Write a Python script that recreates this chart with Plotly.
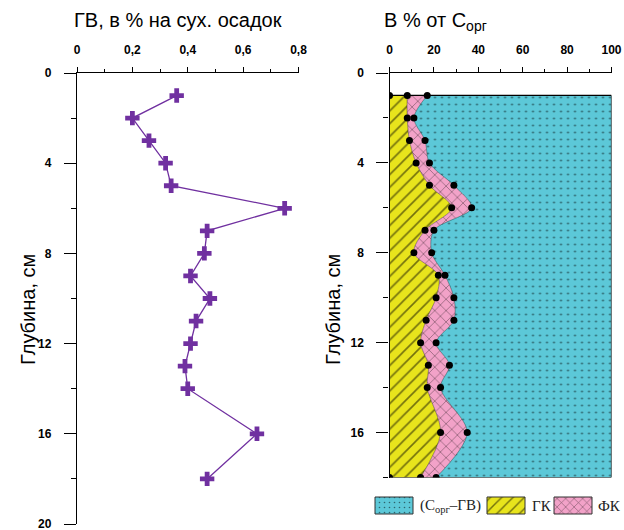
import plotly.graph_objects as go

# ---------------- data ----------------
depth = [1, 2, 3, 4, 5, 6, 7, 8, 9, 10, 11, 12, 13, 14, 16, 18]
gv = [0.36, 0.20, 0.26, 0.32, 0.34, 0.75, 0.47, 0.46, 0.41, 0.48, 0.43, 0.41, 0.39, 0.40, 0.65, 0.47]
gk = [8, 8, 9, 12, 18, 28, 16, 11, 22, 21, 16.5, 14, 17.5, 17, 23, 14]
fk = [9, 3, 7, 6, 11, 9, 4, 8, 3, 8, 12.5, 7, 9.5, 6, 12, 7]
total = [a + b for a, b in zip(gk, fk)]
full = [100] * len(depth)

left_xticks = [0, 0.2, 0.4, 0.6, 0.8]
left_xticktext = ["0", "0,2", "0,4", "0,6", "0,8"]
right_xticks = [0, 20, 40, 60, 80, 100]
yticks = [0, 4, 8, 12, 16, 20]
legend_names = ["(C<sub>орг</sub>–ГВ)", "ГК", "ФК"]

# ---------------- styles ----------------
PURPLE = "#7030A0"
CYAN = "#5CC8D8"
YELLOW = "#E8E41C"
PINK = "#F2A2C8"
W, H = 624, 530

def px_x(p):
    return p / W

def px_y(p):
    return 1 - p / H

fig = go.Figure()

# left panel
fig.add_trace(go.Scatter(
    x=gv, y=depth, mode="lines+markers", xaxis="x", yaxis="y",
    line=dict(color=PURPLE, width=1.3),
    marker=dict(symbol="cross", size=12, color=PURPLE),
    showlegend=False, hoverinfo="skip"))

# right panel stacked fills
spl = dict(shape="spline", smoothing=0.9)
fig.add_trace(go.Scatter(
    x=gk, y=depth, xaxis="x2", yaxis="y2", mode="lines",
    line=dict(color="rgba(0,0,0,0.6)", width=0.6, **spl),
    fill="tozerox", fillcolor=YELLOW,
    fillpattern=dict(shape="/", bgcolor=YELLOW, fgcolor="black", size=9, solidity=0.18),
    showlegend=False, hoverinfo="skip"))
fig.add_trace(go.Scatter(
    x=total, y=depth, xaxis="x2", yaxis="y2", mode="lines",
    line=dict(color="rgba(0,0,0,0.6)", width=0.6, **spl),
    fill="tonextx", fillcolor=PINK,
    fillpattern=dict(shape="x", bgcolor=PINK, fgcolor="black", size=8, solidity=0.15),
    showlegend=False, hoverinfo="skip"))
fig.add_trace(go.Scatter(
    x=full, y=depth, xaxis="x2", yaxis="y2", mode="lines",
    line=dict(color="black", width=1.2),
    fill="tonextx", fillcolor=CYAN,
    fillpattern=dict(shape=".", bgcolor=CYAN, fgcolor="black", size=7, solidity=0.07),
    showlegend=False, hoverinfo="skip"))

# markers on boundaries
for xs in (gk, total):
    fig.add_trace(go.Scatter(
        x=xs, y=depth, xaxis="x2", yaxis="y2", mode="markers",
        marker=dict(symbol="circle", size=7, color="black"),
        showlegend=False, hoverinfo="skip"))
fig.add_trace(go.Scatter(
    x=[0, 0], y=[depth[0], depth[-1]], xaxis="x2", yaxis="y2", mode="markers",
    marker=dict(symbol="circle", size=7, color="black"),
    showlegend=False, hoverinfo="skip"))

# top/bottom outline of the profile
for d in (depth[0], depth[-1]):
    fig.add_shape(type="line", xref="x2", yref="y2", x0=0, x1=100, y0=d, y1=d,
                  line=dict(color="black", width=1.2))

# ---------------- legend (custom swatches on a helper axis) ----------------
sw_fill = [CYAN, YELLOW, PINK]
sw_pat = [dict(shape=".", bgcolor=CYAN, fgcolor="black", size=5, solidity=0.08),
          dict(shape="/", bgcolor=YELLOW, fgcolor="black", size=8, solidity=0.18),
          dict(shape="x", bgcolor=PINK, fgcolor="black", size=6, solidity=0.18)]
sw_left = [375, 487, 554]
sw_w, sw_top, sw_bot = 38, 497, 514
text_left = [418, 530, 596]
for i in range(3):
    x0 = sw_left[i]
    fig.add_trace(go.Scatter(
        x=[x0, x0 + sw_w, x0 + sw_w, x0, x0], y=[sw_top, sw_top, sw_bot, sw_bot, sw_top],
        xaxis="x3", yaxis="y3", mode="lines", line=dict(color="#333", width=1),
        fill="toself", fillcolor=sw_fill[i], fillpattern=sw_pat[i],
        showlegend=False, hoverinfo="skip"))
    fig.add_annotation(x=text_left[i], y=(sw_top + sw_bot) / 2, xref="x3", yref="y3",
                       text=legend_names[i], showarrow=False, xanchor="left", yanchor="middle",
                       font=dict(family="Liberation Serif", size=15, color="#222"))

axis_common = dict(showline=True, linecolor="black", linewidth=1.3, ticks="outside",
                   tickcolor="black", tickwidth=1.3, showgrid=False, zeroline=False,
                   automargin=False, ticklabeloverflow="allow",
                   tickfont=dict(family="Liberation Sans", size=12, color="black", weight="bold"))

ydom_left = [px_y(524), px_y(73)]
ydom_right = [px_y(477.5), px_y(73)]

fig.update_layout(
    width=W, height=H, autosize=False,
    margin=dict(l=0, r=0, t=0, b=0, pad=0, autoexpand=False),
    paper_bgcolor="white", plot_bgcolor="rgba(0,0,0,0)",
    showlegend=False,
    xaxis=dict(domain=[px_x(77), px_x(298.5)], range=[0, 0.8], side="top", anchor="y",
               tickvals=left_xticks, ticktext=left_xticktext, ticklen=5, ticklabelstandoff=8,
               minor=dict(dtick=0.1, ticklen=3, ticks="outside", tickcolor="black", tickwidth=1.3),
               **axis_common),
    yaxis=dict(domain=ydom_left, range=[20, 0], anchor="x", tickvals=yticks, ticklen=12,
               ticklabelstandoff=10,
               minor=dict(dtick=2, ticklen=5, ticks="outside", tickcolor="black", tickwidth=1.3),
               **axis_common),
    xaxis2=dict(domain=[px_x(389.5), px_x(611.5)], range=[0, 100], side="top", anchor="y2",
                tickvals=right_xticks, ticklen=5, ticklabelstandoff=8,
                minor=dict(dtick=10, ticklen=3, ticks="outside", tickcolor="black", tickwidth=1.3),
                **axis_common),
    yaxis2=dict(domain=ydom_right, range=[18, 0], anchor="x2", tickvals=yticks[:-1], ticklen=12,
                ticklabelstandoff=10,
                minor=dict(dtick=2, ticklen=5, ticks="outside", tickcolor="black", tickwidth=1.3),
                **axis_common),
    xaxis3=dict(domain=[px_x(362), 1.0], range=[362, 624], anchor="y3", visible=False,
                fixedrange=True, automargin=False),
    yaxis3=dict(domain=[0.0, px_y(490)], range=[530, 490], anchor="x3", visible=False,
                fixedrange=True, automargin=False),
)

title_font = dict(family="Liberation Sans", size=20, color="black")
fig.add_annotation(x=px_x(178), y=px_y(20), xref="paper", yref="paper", showarrow=False,
                   text="ГВ, в % на сух. осадок", font=title_font, xanchor="center", yanchor="middle")
fig.add_annotation(x=px_x(382), y=px_y(22), xref="paper", yref="paper", showarrow=False,
                   text="В % от C<sub>орг</sub>", font=title_font, xanchor="left", yanchor="middle")
fig.add_annotation(x=px_x(28), y=px_y(310), xref="paper", yref="paper", showarrow=False,
                   text="Глубина, см", font=title_font, textangle=-90, xanchor="center", yanchor="middle")
fig.add_annotation(x=px_x(333), y=px_y(310), xref="paper", yref="paper", showarrow=False,
                   text="Глубина, см", font=title_font, textangle=-90, xanchor="center", yanchor="middle")

fig.write_html("out.html", config={"displayModeBar": False},
               post_script="document.body.style.margin='0px';document.body.style.overflow='hidden';")
